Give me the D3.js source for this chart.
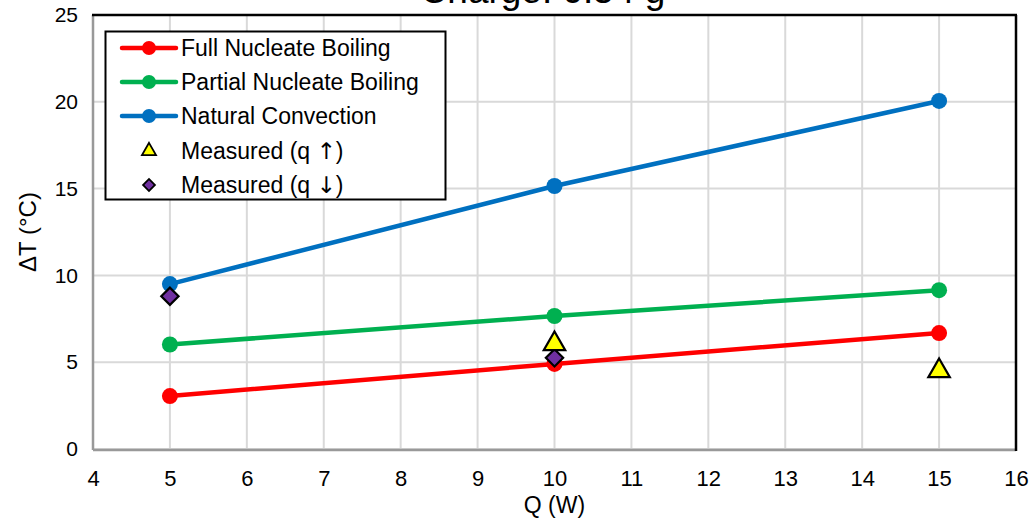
<!DOCTYPE html>
<html>
<head>
<meta charset="utf-8">
<script src="https://cdn.jsdelivr.net/npm/d3@7"></script>
<style>
  html, body { margin: 0; padding: 0; background: #fff; }
  svg { display: block; font-family: Arial, "Liberation Sans", sans-serif; }
</style>
</head>
<body>
<svg id="chart" width="1036" height="519"></svg>
<script>
// Heat input levels (W)
const powers = [5, 10, 15];
// Predicted temperature difference for each regime (°C)
const fullNucleate = [3.05, 4.9, 6.68];
const partialNucleate = [6.02, 7.66, 9.15];
const naturalConvection = [9.5, 15.15, 20.05];
// Measurements, increasing and decreasing heat flux
const measuredUpQ = [10, 15];
const measuredUp = [6.05, 4.5];
const measuredDownQ = [5, 10];
const measuredDown = [8.8, 5.25];
// Axis ticks
const xTicks = [4, 5, 6, 7, 8, 9, 10, 11, 12, 13, 14, 15, 16];
const yTicks = [0, 5, 10, 15, 20, 25];

const lineSeries = [
  { name: "Full Nucleate Boiling", values: fullNucleate, color: "#ff0000" },
  { name: "Partial Nucleate Boiling", values: partialNucleate, color: "#00b050" },
  { name: "Natural Convection", values: naturalConvection, color: "#0070c0" }
];

const svg = d3.select("#chart");
const m = { left: 93, right: 1016, top: 15, bottom: 449 };
const FONT = "Arial, 'Liberation Sans', sans-serif";

const x = d3.scaleLinear().domain([4, 16]).range([m.left, m.right]);
const y = d3.scaleLinear().domain([0, 25]).range([m.bottom, m.top]);

// Title (sits above the top edge)
svg.append("text")
  .attr("x", 543).attr("y", 3)
  .attr("text-anchor", "middle")
  .attr("font-size", 37)
  .attr("fill", "#000")
  .text("Charge: 0.54 g");

// Gridlines
const grid = svg.append("g");
grid.selectAll("line.vx").data(xTicks).join("line")
  .attr("x1", d => x(d)).attr("x2", d => x(d))
  .attr("y1", m.top).attr("y2", m.bottom)
  .attr("stroke", "#d9d9d9").attr("stroke-width", 2);
grid.selectAll("line.hy").data(yTicks).join("line")
  .attr("x1", m.left).attr("x2", m.right)
  .attr("y1", d => y(d)).attr("y2", d => y(d))
  .attr("stroke", "#d9d9d9").attr("stroke-width", 2);

// Plot frame: grey left/bottom, black top/right
svg.append("line").attr("x1", m.left).attr("x2", m.left)
  .attr("y1", m.top).attr("y2", m.bottom + 1)
  .attr("stroke", "#999").attr("stroke-width", 2.5);
svg.append("line").attr("x1", m.left).attr("x2", m.right)
  .attr("y1", m.bottom + 1).attr("y2", m.bottom + 1)
  .attr("stroke", "#999").attr("stroke-width", 2.5);
svg.append("line").attr("x1", m.left - 1).attr("x2", m.right + 1)
  .attr("y1", m.top).attr("y2", m.top)
  .attr("stroke", "#000").attr("stroke-width", 2.5);
svg.append("line").attr("x1", m.right).attr("x2", m.right)
  .attr("y1", m.top).attr("y2", m.bottom + 2)
  .attr("stroke", "#000").attr("stroke-width", 2.5);

// Axes (labels only; the frame and grid draw the lines)
const xAxis = svg.append("g")
  .attr("transform", `translate(0,${m.bottom + 37})`)
  .call(d3.axisBottom(x).tickValues(xTicks).tickSize(0).tickPadding(0));
xAxis.select(".domain").remove();
xAxis.selectAll("text").attr("font-size", 22).attr("font-family", FONT)
  .attr("fill", "#000").attr("dy", null).attr("y", 0);

const yAxis = svg.append("g")
  .attr("transform", `translate(${m.left - 15},0)`)
  .call(d3.axisLeft(y).tickValues(yTicks).tickSize(0).tickPadding(0));
yAxis.select(".domain").remove();
yAxis.selectAll("text").attr("font-size", 21).attr("font-family", FONT)
  .attr("fill", "#000");

// Axis titles
svg.append("text")
  .attr("x", x(10)).attr("y", 513)
  .attr("text-anchor", "middle").attr("font-size", 23).attr("fill", "#000")
  .text("Q (W)");
svg.append("text")
  .attr("transform", `translate(36,${y(12.5)}) rotate(-90)`)
  .attr("text-anchor", "middle").attr("font-size", 24).attr("fill", "#000")
  .text("ΔT (°C)");

// Regime lines with circle markers
const line = d3.line().x((d, i) => x(powers[i])).y(d => y(d));
const series = svg.append("g");
lineSeries.forEach(s => {
  series.append("path")
    .datum(s.values)
    .attr("d", line)
    .attr("fill", "none")
    .attr("stroke", s.color)
    .attr("stroke-width", 4.5);
  series.selectAll(null).data(s.values).join("circle")
    .attr("cx", (d, i) => x(powers[i]))
    .attr("cy", d => y(d))
    .attr("r", 8)
    .attr("fill", s.color);
});

// Measured points
const tri = d3.symbol().type(d3.symbolTriangle).size(200);
const dia = d3.symbol().type(d3.symbolSquare).size(150);
svg.append("g").selectAll("path").data(measuredDown).join("path")
  .attr("d", dia)
  .attr("transform", (d, i) => `translate(${x(measuredDownQ[i])},${y(d)}) rotate(45)`)
  .attr("fill", "#7030a0").attr("stroke", "#000").attr("stroke-width", 2.2);
svg.append("g").selectAll("path").data(measuredUp).join("path")
  .attr("d", tri)
  .attr("transform", (d, i) => `translate(${x(measuredUpQ[i])},${y(d)})`)
  .attr("fill", "#ffff00").attr("stroke", "#000").attr("stroke-width", 2.2);

// Legend
const lg = svg.append("g");
lg.append("rect")
  .attr("x", 105.5).attr("y", 31.5).attr("width", 340).attr("height", 168)
  .attr("fill", "#fff").attr("stroke", "#000").attr("stroke-width", 2);
const rowY = [48, 82, 116, 151, 185];
const legendItems = [
  ...lineSeries.map(s => ({ name: s.name, kind: "line", color: s.color })),
  { name: "Measured (q ", arrow: "↑", kind: "tri" },
  { name: "Measured (q ", arrow: "↓", kind: "dia" }
];
legendItems.forEach((it, i) => {
  const cy = rowY[i];
  if (it.kind === "line") {
    lg.append("line").attr("x1", 122).attr("x2", 176).attr("y1", cy).attr("y2", cy)
      .attr("stroke", it.color).attr("stroke-width", 4.5).attr("stroke-linecap", "round");
    lg.append("circle").attr("cx", 149).attr("cy", cy).attr("r", 7).attr("fill", it.color);
  } else if (it.kind === "tri") {
    lg.append("path").attr("d", d3.symbol().type(d3.symbolTriangle).size(85))
      .attr("transform", `translate(149,${cy})`)
      .attr("fill", "#ffff00").attr("stroke", "#000").attr("stroke-width", 1.8);
  } else {
    lg.append("path").attr("d", d3.symbol().type(d3.symbolSquare).size(70))
      .attr("transform", `translate(149,${cy}) rotate(45)`)
      .attr("fill", "#7030a0").attr("stroke", "#000").attr("stroke-width", 1.8);
  }
  const t = lg.append("text").attr("x", 181).attr("y", cy).attr("dy", "0.36em")
    .attr("font-size", 23).attr("fill", "#000");
  t.append("tspan").text(it.name);
  if (it.arrow) {
    t.append("tspan").attr("font-family", "'DejaVu Sans', sans-serif")
      .attr("fill", "#000").text(it.arrow);
    t.append("tspan").text(")");
  }
});
</script>
</body>
</html>
